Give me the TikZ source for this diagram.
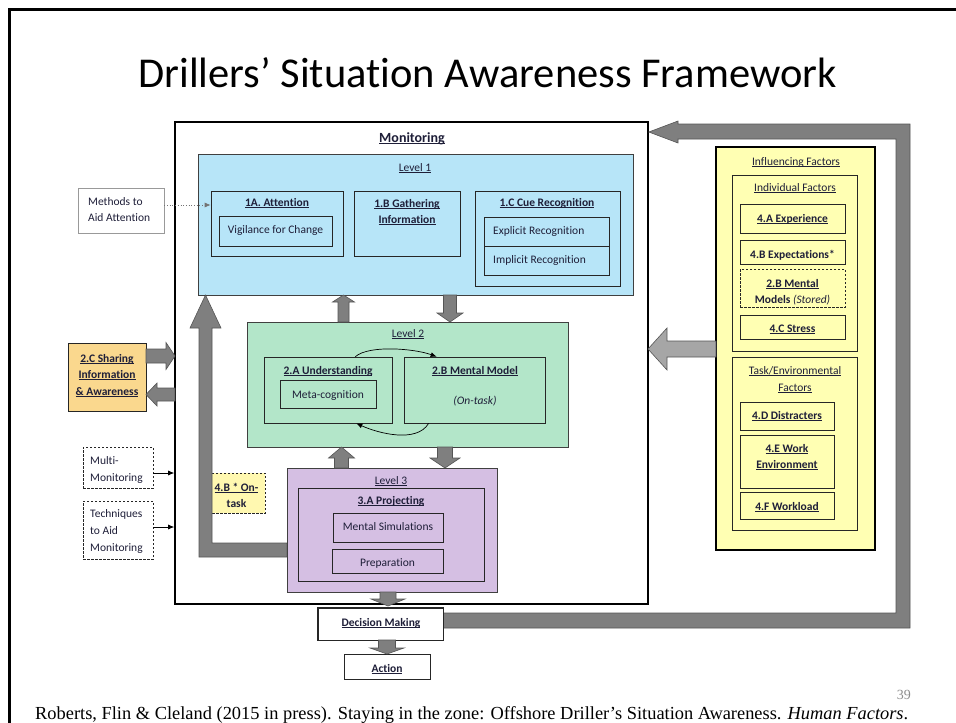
\documentclass[tikz,border=0pt]{standalone}
\usepackage{fontspec}
\setmainfont{Carlito}[Ligatures=NoCommon]
\newfontfamily\timesf{Liberation Serif}
\usetikzlibrary{arrows.meta,calc}
\definecolor{lvone}{HTML}{B7E5F8}
\definecolor{lvtwo}{HTML}{B3E6C9}
\definecolor{lvthree}{HTML}{D5BFE3}
\definecolor{inflc}{HTML}{FFFFB3}
\definecolor{orangec}{HTML}{FAD88E}
\definecolor{yellowc}{HTML}{FFF8B0}
\definecolor{arrowgray}{HTML}{7F7F7F}
\definecolor{arrowedge}{HTML}{555555}
\definecolor{lightarrow}{HTML}{A6A6A6}
\definecolor{textc}{HTML}{1E1E38}
\newcommand\ul[1]{\underline{\smash{#1}}}
\newcommand\bx[6]{\node[#2, inner sep=0pt, minimum width={#5-#3}, minimum height={#6-#4}] (#1) at ({(#3+#5)/2},{(#4+#6)/2}) {};}
\newcommand\varr[7][blockarrow]{\filldraw[#1] (#2-#6,#3) -- (#2-#6,#4) -- (#2-#7,#4) -- (#2,#5) -- (#2+#7,#4) -- (#2+#6,#4) -- (#2+#6,#3) -- cycle;}
\newcommand\harr[7][blockarrow]{\filldraw[#1] (#3,#2-#6) -- (#4,#2-#6) -- (#4,#2-#7) -- (#5,#2) -- (#4,#2+#7) -- (#4,#2+#6) -- (#3,#2+#6) -- cycle;}
\begin{document}
\begin{tikzpicture}[x=1pt,y=-1pt,
  box/.style={draw=black!85, line width=0.7pt},
  lvl/.style={draw=black!75, line width=0.8pt},
  dbox/.style={draw=black!85, line width=0.7pt, dash pattern=on 2.5pt off 1.5pt},
  methbox/.style={draw=black!40, line width=0.6pt},
  monbox/.style={draw=black, line width=1.6pt},
  txt/.style={anchor=base, inner sep=0pt, text=textc, font=\fontsize{11.5}{14}\selectfont},
  btxt/.style={txt, font=\fontsize{11.5}{14}\selectfont\bfseries},
  ltxt/.style={txt, anchor=base west},
  blockarrow/.style={fill=arrowgray, draw=arrowedge, line width=0.6pt},
  thinarrow/.style={draw=black, line width=0.7pt, -{Latex[length=6pt,width=5pt]}}]
\useasboundingbox (0,0) rectangle (956,723);
% slide border
\draw[line width=3pt] (9,723) -- (9,9) -- (956,9);
% title
\node[anchor=base, inner sep=0pt, font=\fontsize{42.5}{48}\selectfont] (title) at (487.5,87) {Drillers’ Situation Awareness Framework};
% monitoring frame and decision box, feedback arrow
\bx{mon}{monbox, fill=white}{175}{122}{648}{604}
\bx{dec}{box, fill=white}{318}{608}{443}{640}
\filldraw[blockarrow] (dec.east |- 0,613) -- (896,613) -- (896,139) -- (678,139) -- (678,143) -- (mon.east |- 0,132) -- (678,121) -- (678,124) -- (910,124) -- (910,628) -- (dec.east |- 0,628) -- cycle;
\draw[box] (dec.north west) rectangle (dec.south east);
% level 1
\bx{lone}{lvl, fill=lvone}{198}{154}{633}{295}
\bx{att}{box}{211}{191}{343}{256}
\bx{vig}{box}{219}{216}{332}{246}
\bx{gath}{box}{354}{191}{460}{256}
\bx{cue}{box}{475}{191}{620}{286}
\bx{expl}{box}{484}{217}{609}{246}
\bx{impl}{box}{484}{246}{609}{275}
\bx{meth}{methbox}{78}{188}{164}{233}
% level 2
\bx{ltwo}{lvl, fill=lvtwo}{247}{322}{568}{447}
\bx{und}{box}{264}{357}{392}{423}
\bx{meta}{box}{280}{380}{376}{408}
\bx{mm}{box}{404}{357}{545}{423}
% left side
\bx{share}{box, fill=orangec}{68}{343}{146}{411}
\bx{multi}{dbox}{83}{447}{153}{488}
\bx{tech}{dbox}{83}{501}{153}{559}
\bx{ontask}{dbox, fill=yellowc}{208}{473}{265}{513}
% level 3
\bx{lthree}{lvl, fill=lvthree}{287}{468}{497}{592}
\bx{proj}{box}{298}{488}{484}{581}
\bx{msim}{box}{333}{513}{443}{542}
\bx{prep}{box}{332}{549}{443}{573}
\bx{act}{box, fill=white}{344}{654}{430}{679}
% influencing factors
\bx{inf}{box, draw=black, line width=1.6pt, fill=inflc}{716}{147}{875}{550}
\bx{ind}{box}{732}{175}{857}{351}
\bx{exp}{box}{740}{204}{845}{233}
\bx{expc}{box}{740}{240}{845}{264}
\bx{mms}{dbox}{740}{269}{845}{307}
\bx{stress}{box}{740}{315}{845}{339}
\bx{taskf}{box}{732}{357}{857}{530}
\bx{dist}{box}{740}{402}{834}{430}
\bx{work}{box}{740}{435}{834}{488}
\bx{load}{box}{740}{492}{834}{519}
% block arrows between levels
\varr{343.5}{322}{302}{295}{5.5}{11}
\varr{450}{295}{313}{322}{6.5}{13}
\varr{341.5}{468}{458}{447}{7}{13}
\varr{445}{447}{458}{468}{7.5}{15}
\varr{388}{592}{599}{606}{8}{17}
\varr{387}{640}{648}{654}{8.5}{17}
\harr{356}{146}{166}{175}{7}{13.5}
\harr{394.5}{175}{157}{146}{6.5}{11.5}
\harr[fill=lightarrow, draw=arrowedge, line width=0.6pt]{349}{716}{667}{648}{8}{21}
% L-shaped arrow from level 3 to level 1
\filldraw[blockarrow] (lthree.west |- 0,543) -- (212,543) -- (212,328) -- (221,328) -- (205.5,295) -- (190,328) -- (199,328) -- (199,557) -- (lthree.west |- 0,557) -- cycle;
% thin arrows
\draw[thinarrow, draw=black!55, dotted] (meth.east |- 0,205) -- (att.west |- 0,205);
\draw[thinarrow] (multi.east |- 0,473) -- (mon.west |- 0,473);
\draw[thinarrow] (tech.east |- 0,527) -- (mon.west |- 0,527);
\draw[thinarrow] ($(und.north east)+(-37,0)$) .. controls +(14,-12) and +(-22,-8) .. ($(mm.north west)+(33,0)$);
\draw[thinarrow] ($(mm.south west)+(25,0)$) .. controls +(-12,20) and +(22,10) .. ($(und.south east)+(-36,0)$);
% texts
\node[btxt, font=\fontsize{14}{16}\selectfont\bfseries] (tmon) at (412,142) {\ul{Monitoring}};
\node[txt] (tl1) at (415,171) {\ul{Level 1}};
\node[btxt] (tatt) at (277,206) {\ul{1A. Attention}};
\node[txt] (tvig) at (275.5,233) {Vigilance for Change};
\node[btxt] (tgath1) at (407,207) {\ul{1.B Gathering}};
\node[btxt] (tgath2) at (407,223) {\ul{Information}};
\node[btxt] (tcue) at (547,206) {\ul{1.C Cue Recognition}};
\node[ltxt] (texpl) at (493,234) {Explicit Recognition};
\node[ltxt] (timpl) at (493,263) {Implicit Recognition};
\node[ltxt] (tmeth1) at (88,205) {Methods to};
\node[ltxt] (tmeth2) at (88,221) {Aid Attention};
\node[txt] (tl2) at (408,337) {\ul{Level 2}};
\node[btxt] (tund) at (328,374) {\ul{2.A Understanding}};
\node[txt] (tmeta) at (328,398) {Meta-cognition};
\node[btxt] (tmm) at (475,374) {\ul{2.B Mental Model}};
\node[txt] (tontask) at (475,404) {\itshape (On-task)};
\node[btxt] (tsh1) at (107,362) {\ul{2.C Sharing}};
\node[btxt] (tsh2) at (107,378) {\ul{Information}};
\node[btxt] (tsh3) at (107,395) {\ul{\& Awareness}};
\node[ltxt] (tmul1) at (90,464) {Multi-};
\node[ltxt] (tmul2) at (90,481) {Monitoring};
\node[ltxt] (ttec1) at (90,517) {Techniques};
\node[ltxt] (ttec2) at (90,534) {to Aid};
\node[ltxt] (ttec3) at (90,551) {Monitoring};
\node[btxt] (tot1) at (236.5,491) {\ul{4.B * On-}};
\node[btxt] (tot2) at (236.5,507) {task};
\node[txt] (tl3) at (391,484) {\ul{Level 3}};
\node[btxt] (tproj) at (391,504) {\ul{3.A Projecting}};
\node[txt] (tmsim) at (388,530) {Mental Simulations};
\node[txt] (tprep) at (387.5,566) {Preparation};
\node[btxt] (tdec) at (381,626) {\ul{Decision Making}};
\node[btxt] (tact) at (387,672) {\ul{Action}};
\node[txt] (tinf) at (796,165) {\ul{Influencing Factors}};
\node[txt] (tind) at (795,191) {\ul{Individual Factors}};
\node[btxt] (texp) at (792.5,222) {\ul{4.A Experience}};
\node[btxt] (texpc) at (792.5,258) {4.B Expectations*};
\node[btxt] (tmms1) at (792.5,287) {\ul{2.B Mental}};
\node[txt] (tmms2) at (792.5,303) {\textbf{Models} \textit{(Stored)}};
\node[btxt] (tstress) at (792.5,332) {\ul{4.C Stress}};
\node[txt] (ttask1) at (795,374) {\ul{Task/Environmental}};
\node[txt] (ttask2) at (795,391) {\ul{Factors}};
\node[btxt] (tdist) at (787,419) {\ul{4.D Distracters}};
\node[btxt] (twork1) at (787,452) {\ul{4.E Work}};
\node[btxt] (twork2) at (787,468) {\ul{Environment}};
\node[btxt] (tload) at (787,510) {\ul{4.F Workload}};
% footer
\node[anchor=base east, inner sep=0pt, text=black!45, font=\timesf\fontsize{14}{16}\selectfont] (pnum) at (911,699) {39};
\node[anchor=base west, inner sep=0pt, font=\timesf\fontsize{18.4}{20}\selectfont] (cite) at (35,719) {Roberts, Flin \& Cleland (2015 in press). Staying in the zone: Offshore Driller’s Situation Awareness. \textit{Human Factors}.};
\end{tikzpicture}
\end{document}
